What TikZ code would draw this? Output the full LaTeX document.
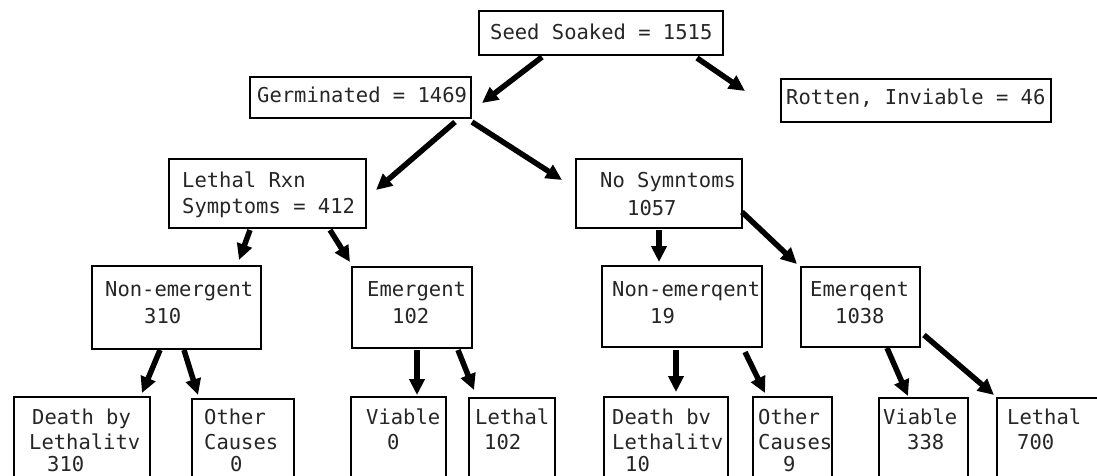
\documentclass[tikz,border=0pt]{standalone}
\usepackage{fontspec}
\newfontfamily\tw{DejaVu Sans Mono}
\usetikzlibrary{arrows.meta,calc}
\begin{document}
\begin{tikzpicture}[x=1pt,y=-1pt,
  box/.style={draw=black, line width=2.3pt, rectangle, inner sep=0pt, anchor=north west},
  txt/.style={anchor=base west, inner sep=0pt, font=\tw\fontsize{20.5pt}{24pt}\selectfont, text=black!85},
  arr/.style={line width=5.5pt, -{Triangle[length=16pt,width=15pt]}}]
\useasboundingbox (0,0) rectangle (1097,475);
\clip (0,0) rectangle (1097,475);
\fill[white] (0,0) rectangle (1097,475);
% boxes
\node[box, minimum width=244pt, minimum height=44pt] (seed) at (478,10) {};
\node[box, minimum width=221pt, minimum height=41pt] (germ) at (249,76) {};
\node[box, minimum width=270pt, minimum height=43pt] (rot) at (780,78) {};
\node[box, minimum width=197pt, minimum height=69pt] (leth) at (168,158) {};
\node[box, minimum width=166pt, minimum height=69pt] (nosym) at (575,158) {};
\node[box, minimum width=169pt, minimum height=83pt] (ne310) at (91,265) {};
\node[box, minimum width=120pt, minimum height=81pt] (em102) at (351,266) {};
\node[box, minimum width=160pt, minimum height=81pt] (ne19) at (601,265) {};
\node[box, minimum width=119pt, minimum height=80pt] (em1038) at (800,266) {};
\node[box, minimum width=136pt, minimum height=100pt] (d310) at (13,396) {};
\node[box, minimum width=102pt, minimum height=100pt] (o0) at (191,398) {};
\node[box, minimum width=95pt, minimum height=100pt] (v0) at (350,396) {};
\node[box, minimum width=86pt, minimum height=100pt] (l102) at (468,397) {};
\node[box, minimum width=124pt, minimum height=100pt] (d10) at (603,396) {};
\node[box, minimum width=79pt, minimum height=100pt] (o9) at (752,396) {};
\node[box, minimum width=89pt, minimum height=100pt] (v338) at (878,397) {};
\node[box, minimum width=110pt, minimum height=100pt] (l700) at (996,397) {};
% texts
\node[txt] (seedT) at (490,39) {Seed Soaked = 1515};
\node[txt] (germT) at (257,102) {Germinated = 1469};
\node[txt] (rotT) at (786,104) {Rotten, Inviable = 46};
\node[txt] (lethT1) at (182,187) {Lethal Rxn};
\node[txt] (lethT2) at (182,213) {Symptoms = 412};
\node[txt] (nosymT1) at (600,187) {No Symntoms};
\node[txt] (nosymT2) at (627,215) {1057};
\node[txt] (ne310T1) at (105,296) {Non-emergent};
\node[txt] (ne310T2) at (144,323) {310};
\node[txt] (em102T1) at (367,296) {Emergent};
\node[txt] (em102T2) at (392,323) {102};
\node[txt] (ne19T1) at (612,296) {Non-emerqent};
\node[txt] (ne19T2) at (650,323) {19};
\node[txt] (em1038T1) at (810,296) {Emerqent};
\node[txt] (em1038T2) at (835,323) {1038};
\node[txt] (d310T1) at (32,424) {Death by};
\node[txt] (d310T2) at (29,449) {Lethalitv};
\node[txt] (d310T3) at (47,471) {310};
\node[txt] (o0T1) at (204,424) {Other};
\node[txt] (o0T2) at (204,449) {Causes};
\node[txt] (o0T3) at (230,471) {0};
\node[txt] (v0T1) at (366,424) {Viable};
\node[txt] (v0T2) at (387,449) {0};
\node[txt] (l102T1) at (475,424) {Lethal};
\node[txt] (l102T2) at (484,449) {102};
\node[txt] (d10T1) at (612,424) {Death bv};
\node[txt] (d10T2) at (612,449) {Lethalitv};
\node[txt] (d10T3) at (625,471) {10};
\node[txt] (o9T1) at (758,424) {Other};
\node[txt] (o9T2) at (758,449) {Causes};
\node[txt] (o9T3) at (783,471) {9};
\node[txt] (v338T1) at (883,424) {Viable};
\node[txt] (v338T2) at (907,449) {338};
\node[txt] (l700T1) at (1007,424) {Lethal};
\node[txt] (l700T2) at (1017,449) {700};
% arrows
\draw[arr] ([shift={(64,47)}]seed.north west) -- ([shift={(233,27)}]germ.north west);
\draw[arr] ([shift={(219,48)}]seed.north west) -- ([shift={(-35,13)}]rot.north west);
\draw[arr] ([shift={(206,46)}]germ.north west) -- ([shift={(208,32)}]leth.north west);
\draw[arr] ([shift={(223,46)}]germ.north west) -- ([shift={(-13,22)}]nosym.north west);
\draw[arr] ([shift={(82,72)}]leth.north west) -- ([shift={(148,-5)}]ne310.north west);
\draw[arr] ([shift={(162,72)}]leth.north west) -- ([shift={(-1,-4)}]em102.north west);
\draw[arr] ([shift={(84,72)}]nosym.north west) -- ([shift={(58,-3)}]ne19.north west);
\draw[arr] ([shift={(167,54)}]nosym.north west) -- ([shift={(-3,-2)}]em1038.north west);
\draw[arr] ([shift={(69,85)}]ne310.north west) -- ([shift={(129,-3)}]d310.north west);
\draw[arr] ([shift={(93,85)}]ne310.north west) -- ([shift={(7,-3)}]o0.north west);
\draw[arr] ([shift={(66,84)}]em102.north west) -- ([shift={(67,-1)}]v0.north west);
\draw[arr] ([shift={(107,84)}]em102.north west) -- ([shift={(6,-7)}]l102.north west);
\draw[arr] ([shift={(75,85)}]ne19.north west) -- ([shift={(73,-4)}]d10.north west);
\draw[arr] ([shift={(144,87)}]ne19.north west) -- ([shift={(13,-3)}]o9.north west);
\draw[arr] ([shift={(87,82)}]em1038.north west) -- ([shift={(30,-1)}]v338.north west);
\draw[arr] ([shift={(124,69)}]em1038.north west) -- ([shift={(-2,-2)}]l700.north west);
\end{tikzpicture}
\end{document}
